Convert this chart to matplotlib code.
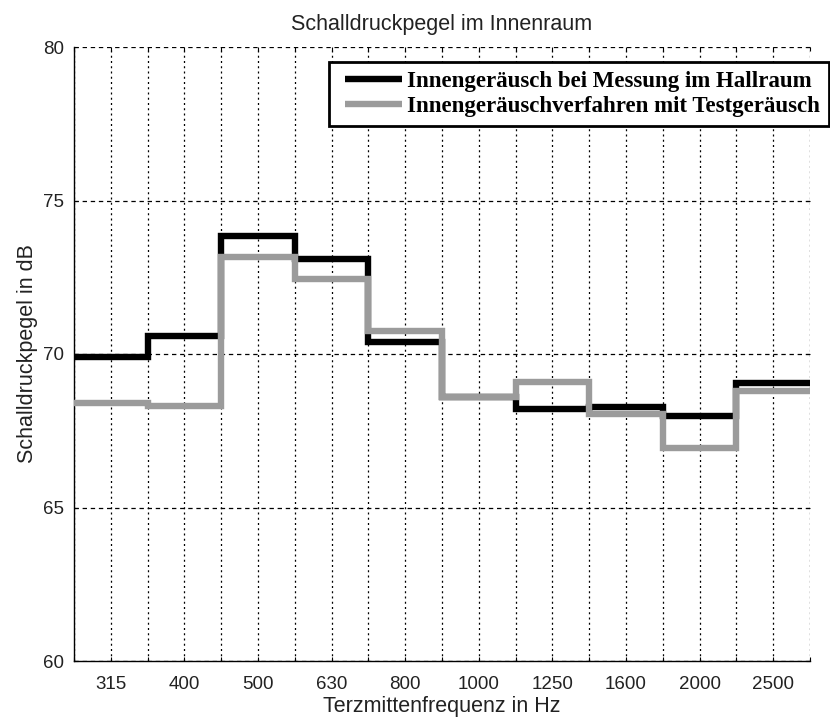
import matplotlib
matplotlib.use("Agg")
import matplotlib.pyplot as plt
import numpy as np
from matplotlib.lines import Line2D
from matplotlib.legend_handler import HandlerLine2D

# Third-octave band centre frequencies and measured levels (dB)
bands = ["315", "400", "500", "630", "800", "1000", "1250", "1600", "2000", "2500"]
hallraum = [69.9, 70.6, 73.85, 73.1, 70.4, 68.6, 68.2, 68.27, 67.97, 69.05]
testgeraeusch = [68.42, 68.3, 73.17, 72.43, 70.74, 68.61, 69.08, 68.03, 66.94, 68.8]

series_labels = ["Innengeräusch bei Messung im Hallraum",
                 "Innengeräuschverfahren mit Testgeräusch"]
series_colors = ["black", "#9b9b9b"]

plt.rcParams["font.family"] = ["Liberation Sans", "DejaVu Sans"]

fig = plt.figure(figsize=(8.30, 7.19), dpi=100)
ax = fig.add_axes([74 / 830, 58 / 719, 736 / 830, 614 / 719])

n = len(bands)
centers = np.arange(1, n + 1)
edges = np.arange(0.5, n + 1.0, 1.0)

lw = 4.6
ax.stairs(hallraum, edges, baseline=None, color=series_colors[0], lw=lw, zorder=3)
ax.stairs(testgeraeusch, edges, baseline=None, color=series_colors[1], lw=lw, zorder=4)

ax.set_xlim(0.5, n + 0.5)
ax.set_ylim(60, 80)
ax.set_xticks(centers)
ax.set_xticklabels(bands)
ax.set_xticks(edges, minor=True)
ax.set_yticks([60, 65, 70, 75, 80])

ax.tick_params(axis="both", which="both", direction="in", top=True, right=True,
               length=3, width=0.8, labelsize=13.5, labelcolor="#222222")
ax.tick_params(axis="x", which="major", pad=11)
ax.tick_params(axis="y", which="major", pad=7)

ax.grid(True, axis="x", which="both", color="black", lw=0.9, linestyle=(0, (1.6, 2.6)))
ax.grid(True, axis="y", which="major", color="black", lw=0.9, linestyle=(0, (3.5, 3.0)))
ax.set_axisbelow(True)

for s in ("top", "right"):
    ax.spines[s].set_visible(False)
for s in ("left", "bottom"):
    ax.spines[s].set_linewidth(1.0)

ax.set_title("Schalldruckpegel im Innenraum", fontsize=15.5, pad=12, color="#222222")
ax.set_xlabel("Terzmittenfrequenz in Hz", fontsize=15.5, labelpad=2, color="#222222")
ax.set_ylabel("Schalldruckpegel in dB", fontsize=15.5, labelpad=4, color="#222222")

# Legend with line proxies matching the step traces
handles = [Line2D([], [], color=c, lw=lw, solid_capstyle="butt") for c in series_colors]
leg = ax.legend(handles, series_labels, loc="upper left",
                bbox_to_anchor=(329 / 830, 1 - 62 / 719), bbox_transform=fig.transFigure,
                prop={"family": "Liberation Serif", "weight": "bold", "size": 16.5},
                frameon=True, fancybox=False, framealpha=1, edgecolor="black",
                handlelength=2.8, handletextpad=0.2, borderpad=0.4, labelspacing=0.15,
                borderaxespad=0, handler_map={Line2D: HandlerLine2D(xpad=0.3)})
leg.get_frame().set_linewidth(2.0)
leg.set_zorder(10)

fig.savefig("out.png", dpi=100)
